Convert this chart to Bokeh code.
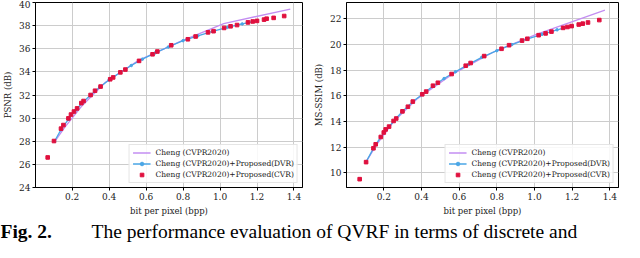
from bokeh.plotting import figure
from bokeh.layouts import column, row
from bokeh.models import Range1d, FixedTicker, Legend, LegendItem, PrintfTickFormatter
from bokeh.core.properties import value
from bokeh.embed import file_html
from bokeh.resources import INLINE

# ---------------- data ----------------
x_ticks = [0.0, 0.2, 0.4, 0.6, 0.8, 1.0, 1.2, 1.4]
psnr_ticks = [24, 26, 28, 30, 32, 34, 36, 38, 40]
msssim_ticks = [10, 12, 14, 16, 18, 20, 22]

# PSNR panel
psnr_base_bpp = [0.105, 0.16, 0.25, 0.38, 0.56, 0.78, 1.02, 1.38]
psnr_base_val = [27.95, 29.2, 31.0, 33.1, 35.0, 36.6, 38.18, 39.43]

psnr_dvr_bpp = [0.105, 0.14, 0.18, 0.22, 0.26, 0.30, 0.35, 0.40, 0.46, 0.52, 0.58,
                0.65, 0.72, 0.80, 0.88, 0.96, 1.04, 1.12, 1.20]
psnr_dvr_val = [28.0, 29.0, 29.9, 30.7, 31.4, 32.0, 32.7, 33.3, 33.95, 34.55, 35.1,
                35.65, 36.15, 36.7, 37.12, 37.5, 37.85, 38.15, 38.42]

psnr_cvr_bpp = [0.068, 0.102, 0.14, 0.153, 0.18, 0.194, 0.21, 0.227, 0.25, 0.262, 0.30,
                0.324, 0.354, 0.406, 0.422, 0.461, 0.488, 0.562, 0.635, 0.661, 0.736,
                0.826, 0.868, 0.935, 0.965, 1.022, 1.057, 1.092, 1.151, 1.177, 1.2,
                1.238, 1.252, 1.29, 1.347]
psnr_cvr_val = [26.6, 28.02, 29.09, 29.4, 29.98, 30.31, 30.57, 30.84, 31.3, 31.48, 32.0,
                32.37, 32.73, 33.36, 33.52, 33.96, 34.2, 34.95, 35.52, 35.76, 36.3,
                36.82, 37.06, 37.42, 37.52, 37.8, 37.94, 38.05, 38.28, 38.36, 38.41,
                38.52, 38.6, 38.67, 38.83]

# MS-SSIM panel
ms_base_bpp = [0.106, 0.16, 0.25, 0.38, 0.56, 0.78, 1.01, 1.374]
ms_base_val = [10.85, 12.15, 13.95, 15.8, 17.65, 19.4, 20.8, 22.69]

ms_dvr_bpp = [0.106, 0.145, 0.184, 0.228, 0.266, 0.30, 0.354, 0.404, 0.46, 0.52, 0.58,
              0.65, 0.72, 0.80, 0.88, 0.96, 1.04, 1.12, 1.20]
ms_dvr_val = [10.85, 11.9, 12.8, 13.6, 14.25, 14.8, 15.55, 16.1, 16.75, 17.35, 17.88,
              18.45, 19.0, 19.52, 20.0, 20.42, 20.8, 21.15, 21.45]

ms_cvr_bpp = [0.072, 0.106, 0.145, 0.157, 0.184, 0.2, 0.21, 0.228, 0.252, 0.266, 0.299,
              0.328, 0.354, 0.404, 0.425, 0.461, 0.487, 0.56, 0.635, 0.661, 0.733,
              0.825, 0.865, 0.934, 0.962, 1.022, 1.059, 1.09, 1.152, 1.175, 1.197,
              1.235, 1.256, 1.284, 1.344]
ms_cvr_val = [9.5, 10.83, 11.91, 12.22, 12.79, 13.14, 13.38, 13.6, 14.04, 14.23, 14.79,
              15.15, 15.55, 16.12, 16.33, 16.79, 17.02, 17.7, 18.35, 18.56, 19.1,
              19.67, 19.95, 20.31, 20.45, 20.73, 20.87, 21.01, 21.3, 21.37, 21.44,
              21.56, 21.63, 21.72, 21.91]

labels = ["Cheng (CVPR2020)", "Cheng (CVPR2020)+Proposed(DVR)", "Cheng (CVPR2020)+Proposed(CVR)"]
caption_bold = "Fig. 2."
caption_text = "The performance evaluation of QVRF in terms of discrete and"

PURPLE = "#c38ef2"
BLUE = "#4aa6e6"
RED = "#e0103e"
FONT = "DejaVu Serif"


def make_panel(width, border_left, yr, yticks, ylabel, base, dvr, cvr):
    p = figure(width=width, height=218, x_range=Range1d(0.002, 1.446), y_range=Range1d(*yr),
               output_backend="svg", toolbar_location=None,
               min_border_left=border_left, min_border_right=6,
               min_border_top=2, min_border_bottom=29)
    p.outline_line_color = "black"
    p.outline_line_width = 1
    p.outline_line_alpha = 1
    p.xaxis.ticker = FixedTicker(ticks=x_ticks)
    p.xaxis.formatter = PrintfTickFormatter(format="%.1f")
    p.yaxis.ticker = FixedTicker(ticks=yticks)
    for ax in (p.xaxis[0], p.yaxis[0]):
        ax.axis_line_color = "black"
        ax.major_tick_line_color = "black"
        ax.major_tick_in = 0
        ax.major_tick_out = 3
        ax.minor_tick_line_color = None
        ax.major_label_standoff = 2
        ax.axis_label_standoff = 3
        ax.major_label_text_font = FONT
        ax.major_label_text_font_size = "9px"
        ax.major_label_text_color = "#222222"
        ax.axis_label_text_font = FONT
        ax.axis_label_text_font_size = "8.5px"
        ax.axis_label_text_font_style = "normal"
        ax.axis_label_text_color = "#222222"
    p.xaxis.axis_label = "bit per pixel (bpp)"
    p.yaxis.axis_label = ylabel
    p.grid.grid_line_color = "#cccccc"
    p.grid.grid_line_width = 1

    r1 = p.line(base[0], base[1], line_color=PURPLE, line_width=1.3)
    r2 = p.line(dvr[0], dvr[1], line_color=BLUE, line_width=1.3)
    r2m = p.scatter(dvr[0], dvr[1], marker="circle", size=2.5, color=BLUE)
    r3 = p.scatter(cvr[0], cvr[1], marker="square", size=3.6, color=RED)

    legend = Legend(items=[LegendItem(label=labels[0], renderers=[r1]),
                           LegendItem(label=labels[1], renderers=[r2, r2m]),
                           LegendItem(label=labels[2], renderers=[r3])],
                    location="bottom_right")
    legend.label_text_font = FONT
    legend.label_text_font_size = "7.5px"
    legend.label_text_color = "#222222"
    legend.label_height = 9
    legend.glyph_height = 9
    legend.glyph_width = 18
    legend.label_standoff = 5
    legend.spacing = 2
    legend.padding = 3
    legend.margin = 4
    legend.border_line_color = "#cccccc"
    legend.border_line_width = 1
    legend.background_fill_alpha = 0.85
    p.add_layout(legend)
    return p


p1 = make_panel(308, 30, (24, 40), psnr_ticks, "PSNR (dB)",
                (psnr_base_bpp, psnr_base_val), (psnr_dvr_bpp, psnr_dvr_val),
                (psnr_cvr_bpp, psnr_cvr_val))
p2 = make_panel(316, 38, (8.85, 23.28), msssim_ticks, "MS-SSIM (dB)",
                (ms_base_bpp, ms_base_val), (ms_dvr_bpp, ms_dvr_val),
                (ms_cvr_bpp, ms_cvr_val))

cap = figure(width=624, height=24, x_range=Range1d(0, 624), y_range=Range1d(0, 24),
             output_backend="svg", toolbar_location=None, min_border=0,
             x_axis_location=None, y_axis_location=None)
cap.grid.visible = False
cap.outline_line_color = None
cap.text(x=[0], y=[11], text=[caption_bold], text_font=value("Liberation Serif"),
         text_font_size="19.5px", text_font_style="bold", text_baseline="middle",
         text_color="black")
cap.text(x=[91], y=[11], text=[caption_text], text_font=value("Liberation Serif"),
         text_font_size="19.5px", text_baseline="middle", text_color="black")

layout = column(row(p1, p2), cap)
open("out.html", "w").write(file_html(layout, INLINE))
